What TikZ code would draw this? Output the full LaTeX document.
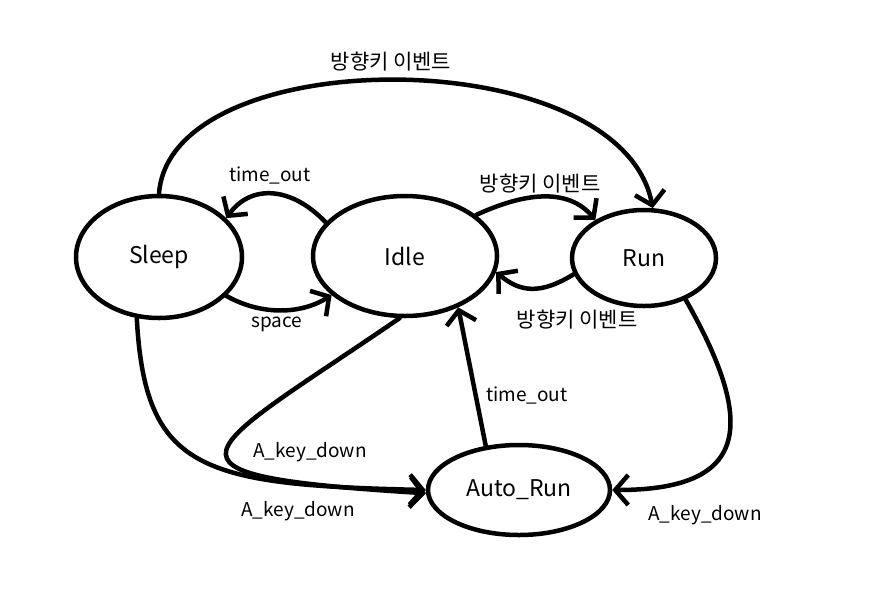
\documentclass[tikz,border=0pt]{standalone}
\usepackage{fontspec}
\setmainfont{Noto Sans CJK KR}
\usetikzlibrary{arrows.meta}
\usetikzlibrary{shapes.geometric}

\begin{document}
\begin{tikzpicture}[x=1pt, y=-1pt, line width=4.5pt, line cap=round,
                    state/.style={ellipse, draw, inner sep=0pt,
                                  font=\fontsize{23}{26}\selectfont},
                    lbl/.style={font=\fontsize{19}{22}\selectfont},
                    kor/.style={font=\fontsize{21}{24}\selectfont},
                    go/.style={-{Straight Barb[length=13pt,width=30pt]}}]
      \useasboundingbox (0,0) rectangle (869,590);

      \node[state, minimum width=166pt, minimum height=122pt] (sleep) at (159,257) {Sleep};
      \node[state, minimum width=184pt, minimum height=120pt] (idle) at (405,256) {Idle};
      \node[state, minimum width=144pt, minimum height=96pt] (run) at (644,258) {Run};
      \node[state, minimum width=182pt, minimum height=90pt] (autorun) at (519,490) {Auto\_Run};

      \draw[go] (sleep.north) .. controls (170,40) and (620,40) .. (run.80);
      \draw[go] (idle.157) .. controls (290,185) and (250,185) .. (sleep.30);
      \draw[go] (sleep.-30) .. controls (260,315) and (300,315) .. (idle.-152);
      \draw[go] (idle.30) .. controls (530,190) and (570,190) .. (run.142);
      \draw[go] (run.193) .. controls (540,295) and (520,292) .. (idle.-10);
      \draw[go] (idle.265) .. controls (200,455) and (130,475) .. (autorun.182);
      \draw[go] (sleep.-110) .. controls (145,470) and (200,485) .. (autorun.west);
      \draw[go] (autorun.127) -- (idle.-44);
      \draw[go] (run.-45) .. controls (760,430) and (745,490) .. (autorun.east);

      \foreach \n/\x/\y/\s/\t in {arc/391/62/kor/방향키 이벤트, to1/270/175/lbl/time\_out,
                                  sp/277/324/lbl/space, ev1/540/184/kor/방향키 이벤트,
                                  ev2/577/320/kor/방향키 이벤트, to2/527/395/lbl/time\_out,
                                  ak1/310/452/lbl/A\_key\_down, ak2/298/511/lbl/A\_key\_down,
                                  ak3/705/515/lbl/A\_key\_down}
        \node[\s] (\n) at (\x,\y) {\t};
\end{tikzpicture}
\end{document}
